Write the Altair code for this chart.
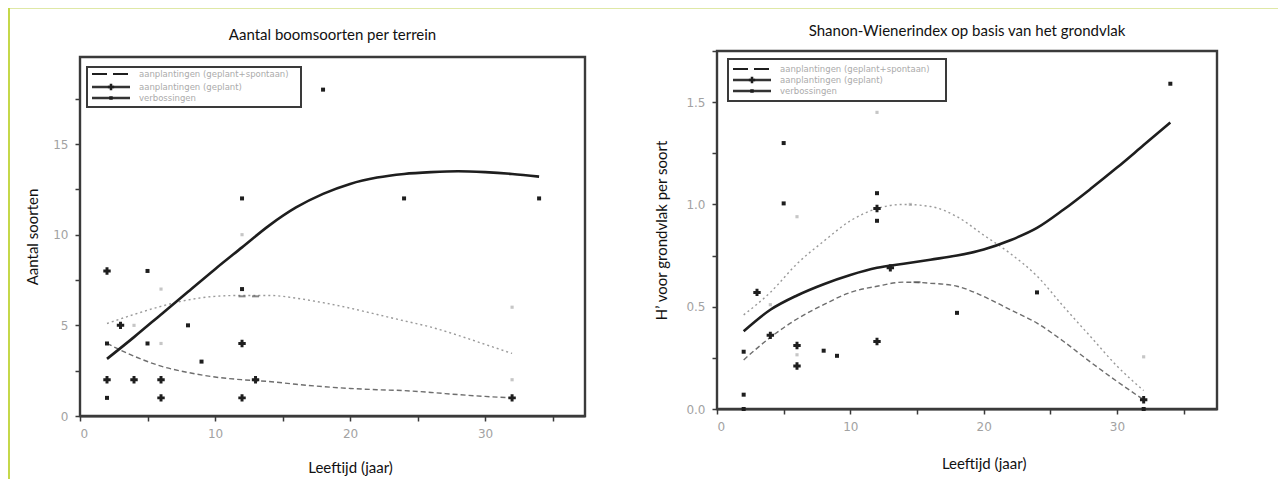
import altair as alt
import pandas as pd

# ---------------- texts ----------------
TITLE_LEFT = "Aantal boomsoorten per terrein"
TITLE_RIGHT = "Shanon-Wienerindex op basis van het grondvlak"
X_TITLE = "Leeftijd (jaar)"
Y_TITLE_LEFT = "Aantal soorten"
Y_TITLE_RIGHT = "H’ voor grondvlak per soort"
LEGEND_LABELS = ["aanplantingen (geplant+spontaan)", "aanplantingen (geplant)", "verbossingen"]

# ---------------- left panel data ----------------
L_PLUS_X = [2, 2, 3, 4, 6, 6, 12, 12, 13, 32]
L_PLUS_Y = [8, 2, 5, 2, 2, 1, 4, 1, 2, 1]
L_DOT_X = [2, 2, 5, 5, 8, 9, 12, 12, 18, 24, 34]
L_DOT_Y = [4, 1, 8, 4, 5, 3, 12, 7, 18, 12, 12]
L_MID_X = [12, 13]
L_MID_Y = [6.6, 6.6]
L_GRAY_X = [4, 6, 6, 12, 32, 32]
L_GRAY_Y = [5, 7, 4, 10, 6, 2]
L_SOLID_X = [2, 4, 6, 8, 10, 12, 14, 16, 18, 20, 22, 24, 26, 28, 30, 32, 34]
L_SOLID_Y = [3.15, 4.35, 5.6, 6.85, 8.1, 9.3, 10.5, 11.5, 12.25, 12.8, 13.15, 13.35, 13.45, 13.5, 13.45, 13.35, 13.2]
L_CURVE_X = [2, 4, 6, 8, 10, 12, 14, 16, 18, 20, 22, 24, 26, 28, 30, 32]
L_DOTTED_Y = [5.1, 5.6, 6.05, 6.4, 6.6, 6.65, 6.65, 6.5, 6.25, 5.95, 5.6, 5.25, 4.9, 4.45, 3.95, 3.45]
L_DASHED_Y = [4.0, 3.3, 2.75, 2.4, 2.15, 2.0, 1.9, 1.75, 1.62, 1.52, 1.45, 1.4, 1.3, 1.18, 1.08, 1.0]

# ---------------- right panel data ----------------
R_PLUS_X = [3, 4, 6, 6, 12, 12, 13, 32]
R_PLUS_Y = [0.57, 0.36, 0.31, 0.21, 0.98, 0.33, 0.69, 0.045]
R_DOT_X = [2, 2, 2, 5, 5, 8, 9, 12, 12, 18, 24, 32, 34]
R_DOT_Y = [0.28, 0.07, 0.0, 1.30, 1.005, 0.285, 0.26, 1.055, 0.92, 0.47, 0.57, 0.0, 1.59]
R_MID_X = [15]
R_MID_Y = [0.62]
R_GRAY_X = [4, 6, 6, 12, 14.5, 32]
R_GRAY_Y = [0.51, 0.94, 0.265, 1.45, 1.0, 0.255]
R_SOLID_X = [2, 4, 6, 8, 10, 12, 14, 16, 18, 20, 22, 24, 26, 28, 30, 32, 34]
R_SOLID_Y = [0.38, 0.485, 0.555, 0.61, 0.655, 0.69, 0.71, 0.73, 0.75, 0.78, 0.825, 0.885, 0.975, 1.075, 1.18, 1.29, 1.4]
R_CURVE_X = [2, 4, 6, 8, 10, 12, 14, 16, 18, 20, 22, 24, 26, 28, 30, 32]
R_DOTTED_Y = [0.46, 0.57, 0.71, 0.82, 0.92, 0.98, 1.0, 0.99, 0.94, 0.85, 0.76, 0.65, 0.5, 0.355, 0.21, 0.09]
R_DASHED_Y = [0.24, 0.35, 0.44, 0.51, 0.57, 0.60, 0.62, 0.615, 0.60, 0.55, 0.485, 0.42, 0.33, 0.23, 0.135, 0.045]

# ---------------- styles ----------------
BAND = "#dfe8a6"
EDGE = "#c5d84a"
FRAME = "#3a3a3a"
INK = "#1e1e1e"
GRAY_PT = "#c6c6c6"
ONE = pd.DataFrame({"k": [0]})


def xy(xs, ys):
    return pd.DataFrame({"x": xs, "y": ys})


def panel(title, ytitle, plus, dots, mids, gray, solid, dotted, dashed,
          xmax, ymax, width, height, top, ystep, ylab_step, yfmt,
          ytitle_x, xtitle_y, band, title_y, legend_box, legend_rows, edge=None):
    x_enc = alt.X("x:Q", scale=alt.Scale(domain=[0, xmax], nice=False, zero=False),
                  axis=alt.Axis(values=[0, 5, 10, 15, 20, 25, 30, 35],
                                labelExpr="datum.value % 10 === 0 ? datum.label : ''",
                                title=X_TITLE, titleY=xtitle_y, titleX=20 / xmax * width,
                                titleAlign="center", titleBaseline="middle"))
    nt = int(round(ymax / ystep))
    yvals = [round(i * ystep, 4) for i in range(nt + 1) if i * ystep <= ymax]
    k = int(round(ylab_step / ystep))
    y_enc = alt.Y("y:Q", scale=alt.Scale(domain=[0, ymax], range=[height, top], nice=False, zero=False),
                  axis=alt.Axis(values=yvals, format=yfmt,
                                labelExpr=f"round(datum.value/{ystep}) % {k} === 0 ? datum.label : ''",
                                title=ytitle, titleX=ytitle_x, titleBaseline="middle"))

    layers = []
    bx1, bx2, by1, by2 = band
    layers.append(alt.Chart(ONE).mark_rect(color=BAND).encode(
        x=alt.value(bx1), x2=alt.value(bx2), y=alt.value(by1), y2=alt.value(by2)))
    if edge is not None:
        ex1, ex2, ey1, ey2 = edge
        layers.append(alt.Chart(ONE).mark_rect(color=EDGE).encode(
            x=alt.value(ex1), x2=alt.value(ex2), y=alt.value(ey1), y2=alt.value(ey2)))
    # panel title (as a text mark so that it does not disturb the layout)
    layers.append(alt.Chart(ONE).mark_text(font="Lato", fontSize=15, color="#111",
                                           align="center", baseline="middle").encode(
        x=alt.value(width / 2), y=alt.value(title_y), text=alt.value(title)))
    # plot frame
    layers.append(alt.Chart(ONE).mark_rect(fill="white", stroke=FRAME, strokeWidth=2.4).encode(
        x=alt.value(0), x2=alt.value(width), y=alt.value(top), y2=alt.value(height)))

    layers.append(alt.Chart(xy(*gray)).mark_point(shape="square", filled=True, size=10,
                                                  color=GRAY_PT, opacity=1).encode(x=x_enc, y=y_enc))
    layers.append(alt.Chart(xy(*dotted)).mark_line(interpolate="monotone", color="#9a9a9a",
                                                   strokeWidth=1.4, strokeDash=[2, 3]).encode(x=x_enc, y=y_enc))
    layers.append(alt.Chart(xy(*dashed)).mark_line(interpolate="monotone", color="#6e6e6e",
                                                   strokeWidth=1.4, strokeDash=[5, 3]).encode(x=x_enc, y=y_enc))
    layers.append(alt.Chart(xy(*mids)).mark_tick(orient="horizontal", size=7, thickness=2,
                                                 color="#555").encode(x=x_enc, y=y_enc))
    layers.append(alt.Chart(xy(*solid)).mark_line(interpolate="monotone", color=INK,
                                                  strokeWidth=2.6).encode(x=x_enc, y=y_enc))
    layers.append(alt.Chart(xy(*dots)).mark_point(shape="square", filled=True, size=16,
                                                  color=INK, opacity=1).encode(x=x_enc, y=y_enc))
    layers.append(alt.Chart(xy(*plus)).mark_point(shape="cross", filled=True, size=55,
                                                  color=INK, opacity=1).encode(x=x_enc, y=y_enc))

    # legend (inside top-left of the plot)
    lx1, lx2, ly1, ly2 = legend_box
    layers.append(alt.Chart(ONE).mark_rect(fill="white", stroke=FRAME, strokeWidth=2).encode(
        x=alt.value(lx1), x2=alt.value(lx2), y=alt.value(ly1), y2=alt.value(ly2)))
    sx1, sx2 = lx1 + 5, lx1 + 43
    for i, (ry, label) in enumerate(zip(legend_rows, LEGEND_LABELS)):
        if i == 0:
            layers.append(alt.Chart(ONE).mark_rule(color=INK, strokeWidth=2, strokeDash=[15, 6]).encode(
                x=alt.value(sx1), x2=alt.value(sx2), y=alt.value(ry)))
        else:
            layers.append(alt.Chart(ONE).mark_rule(color="#333", strokeWidth=2.5).encode(
                x=alt.value(sx1), x2=alt.value(sx2), y=alt.value(ry)))
            shape, size = ("cross", 40) if i == 1 else ("square", 12)
            layers.append(alt.Chart(ONE).mark_point(shape=shape, filled=True, size=size,
                                                    color=INK, opacity=1).encode(
                x=alt.value((sx1 + sx2) / 2), y=alt.value(ry)))
        layers.append(alt.Chart(ONE).mark_text(align="left", baseline="middle", font="DejaVu Sans",
                                               fontSize=8.5, color="#ababab").encode(
            x=alt.value(lx1 + 52), y=alt.value(ry), text=alt.value(label)))

    return alt.layer(*layers).properties(width=width, height=height)


# both plot origins sit at page y = 51; the left frame starts 6 px lower
left = panel(TITLE_LEFT, Y_TITLE_LEFT,
             (L_PLUS_X, L_PLUS_Y), (L_DOT_X, L_DOT_Y), (L_MID_X, L_MID_Y), (L_GRAY_X, L_GRAY_Y),
             (L_SOLID_X, L_SOLID_Y), (L_CURVE_X, L_DOTTED_Y), (L_CURVE_X, L_DASHED_Y),
             xmax=37.4, ymax=19.8, width=505, height=365, top=6, ystep=2.5, ylab_step=5, yfmt="d",
             ytitle_x=-48, xtitle_y=51, band=(-72, 560, -43, -42), title_y=-16,
             legend_box=(7, 221, 16, 56), legend_rows=[23, 36, 47], edge=(-72, -70, -43, 428))

right = panel(TITLE_RIGHT, Y_TITLE_RIGHT,
              (R_PLUS_X, R_PLUS_Y), (R_DOT_X, R_DOT_Y), (R_MID_X, R_MID_Y), (R_GRAY_X, R_GRAY_Y),
              (R_SOLID_X, R_SOLID_Y), (R_CURVE_X, R_DOTTED_Y), (R_CURVE_X, R_DASHED_Y),
              xmax=37.5, ymax=1.75, width=500, height=358, top=0, ystep=0.25, ylab_step=0.5, yfmt=".1f",
              ytitle_x=-56, xtitle_y=54, band=(-77, 561, -43, -42), title_y=-20,
              legend_box=(11, 229, 8, 50), legend_rows=[18, 29, 40])

chart = alt.hconcat(left, right, spacing=0, bounds="full").properties(padding=0).configure_view(
    strokeWidth=0
).configure_axis(
    grid=False, labelFont="DejaVu Sans", labelFontSize=12, labelColor="#a2a2a2",
    labelPadding=7, tickSize=5, tickColor=FRAME, tickWidth=1.5,
    domainColor=FRAME, domainWidth=2,
    titleFont="Lato", titleFontSize=15, titleFontWeight="normal", titleColor="#111"
)

chart.save("out.html", embed_options={"renderer": "svg", "actions": False})
